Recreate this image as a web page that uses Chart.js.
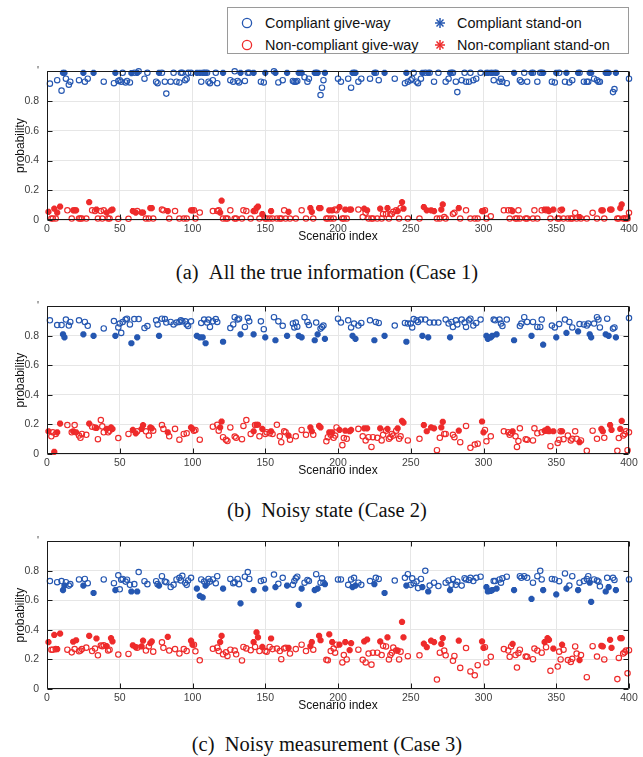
<!DOCTYPE html>
<html>
<head>
<meta charset="utf-8">
<title>Compliance probability per scenario</title>
<script src="https://cdn.jsdelivr.net/npm/chart.js@4.4.1/dist/chart.umd.min.js"></script>
<style>
  html, body { margin: 0; padding: 0; background: #fff; }
  body { width: 643px; height: 757px; position: relative; overflow: hidden; font-family: "Liberation Sans", Arial, sans-serif; }
  canvas { position: absolute; left: 0; }
  .legend { position: absolute; left: 227px; top: 7px; width: 400px; height: 45px; border: 1px solid #9a9a9a; background: #fff; }
  .item { position: absolute; font-size: 14.4px; color: #111; line-height: 16px; white-space: nowrap; }
  .item svg { position: absolute; top: 2px; }
  .caption { position: absolute; left: 0; width: 654px; text-align: center; line-height: 22px; font-family: "Liberation Serif", "Times New Roman", serif; font-size: 20.5px; color: #111; }
</style>
</head>
<body>
<div class="legend">
  <div class="item" style="left:37px;top:7px"><svg width="12" height="12" style="left:-24px"><circle cx="6" cy="6" r="4.6" fill="none" stroke="#2557b1" stroke-width="1.3"/></svg>Compliant give-way</div>
  <div class="item" style="left:229px;top:7px"><svg width="12" height="12" style="left:-23px"><g stroke="#2557b1" stroke-width="1.5"><line x1="1" y1="6" x2="11" y2="6"/><line x1="6" y1="1" x2="6" y2="11"/><line x1="2.5" y1="2.5" x2="9.5" y2="9.5"/><line x1="9.5" y1="2.5" x2="2.5" y2="9.5"/></g></svg>Compliant stand-on</div>
  <div class="item" style="left:37px;top:29px"><svg width="12" height="12" style="left:-24px"><circle cx="6" cy="6" r="4.6" fill="none" stroke="#ee2b2b" stroke-width="1.3"/></svg>Non-compliant give-way</div>
  <div class="item" style="left:229px;top:29px"><svg width="12" height="12" style="left:-23px"><g stroke="#ee2b2b" stroke-width="1.5"><line x1="1" y1="6" x2="11" y2="6"/><line x1="6" y1="1" x2="6" y2="11"/><line x1="2.5" y1="2.5" x2="9.5" y2="9.5"/><line x1="9.5" y1="2.5" x2="2.5" y2="9.5"/></g></svg>Non-compliant stand-on</div>
</div>

<canvas id="case1" width="643" height="189" style="top:57px"></canvas>
<div class="caption" style="top:261px">(a)&nbsp;&nbsp;All the true information (Case 1)</div>
<canvas id="case2" width="643" height="188" style="top:292px"></canvas>
<div class="caption" style="top:499px">(b)&nbsp;&nbsp;Noisy state (Case 2)</div>
<canvas id="case3" width="643" height="188" style="top:527px"></canvas>
<div class="caption" style="top:733px">(c)&nbsp;&nbsp;Noisy measurement (Case 3)</div>

<script>
const xTicks = [0, 50, 100, 150, 200, 250, 300, 350, 400];
const yTicks = [0, 0.2, 0.4, 0.6, 0.8, 1];

// scenario indices for each kind of vessel (same scenarios in all three cases)
const compGiveIdx = [
    2, 7, 10, 13, 15, 16, 22, 26, 28, 39,
    46, 49, 50, 51, 52, 54, 55, 57, 60, 63,
    67, 69, 75, 76, 79, 81, 82, 85, 87, 89,
    91, 92, 93, 95, 96, 97, 99, 106, 108, 110,
    111, 112, 114, 116, 117, 126, 128, 129, 131, 132,
    136, 138, 139, 147, 149, 156, 159, 162, 169, 170,
    171, 172, 177, 179, 180, 185, 188, 189, 190, 200,
    202, 207, 209, 211, 214, 216, 222, 226, 228, 239,
    246, 248, 250, 251, 252, 254, 255, 257, 260, 263,
    266, 269, 274, 276, 278, 279, 281, 282, 285, 287,
    288, 290, 291, 293, 295, 298, 307, 308, 311, 312,
    313, 316, 325, 326, 328, 330, 334, 337, 339, 340,
    347, 349, 352, 356, 359, 361, 366, 369, 371, 372,
    376, 378, 379, 380, 385, 389, 390, 400
];
const compStandIdx = [
    11, 12, 25, 32, 47, 58, 62, 77, 103, 105,
    107, 109, 121, 133, 142, 150, 157, 165, 173, 175,
    184, 186, 191, 210, 212, 225, 232, 247, 258, 262,
    277, 302, 303, 305, 306, 309, 321, 333, 341, 350,
    357, 365, 373, 374, 384, 386, 391
];
const nonGiveIdx = [
    3, 4, 6, 14, 17, 19, 22, 23, 24, 27,
    31, 33, 35, 37, 38, 39, 42, 43, 49, 56,
    62, 68, 70, 73, 79, 80, 84, 88, 91, 94,
    96, 101, 102, 105, 114, 117, 118, 121, 123, 124,
    126, 129, 130, 134, 135, 137, 140, 143, 146, 150,
    151, 153, 155, 158, 160, 161, 163, 164, 167, 171,
    175, 178, 183, 192, 193, 195, 197, 198, 199, 203,
    204, 206, 214, 217, 219, 221, 223, 224, 227, 230,
    231, 233, 235, 236, 237, 238, 240, 242, 243, 248,
    256, 268, 270, 273, 274, 279, 280, 284, 288, 291,
    294, 296, 301, 302, 305, 314, 317, 318, 319, 322,
    323, 324, 325, 329, 330, 334, 335, 337, 340, 343,
    346, 351, 352, 353, 355, 358, 360, 361, 363, 364,
    367, 371, 375, 378, 383, 392, 393, 396, 397, 398,
    399, 400
];
const nonStandIdx = [
    1, 5, 7, 9, 18, 20, 29, 34, 41, 44,
    45, 59, 61, 65, 66, 71, 72, 83, 99, 100,
    119, 120, 142, 144, 145, 148, 154, 166, 181, 182,
    187, 188, 194, 196, 201, 205, 208, 209, 218, 220,
    229, 234, 241, 244, 245, 259, 261, 264, 266, 271,
    272, 283, 299, 300, 320, 342, 344, 345, 348, 354,
    366, 381, 382, 387, 388, 394, 395
];

// Case 1: all the true information
const case1CompGive = [
    .917, .94, .87, .95, .91, .93, .94, .93, .95, .93,
    .92, .935, .94, .93, .99, .925, .935, .925, .99, 1.0,
    .95, .99, .93, .92, .99, .93, .85, .93, .99, .93,
    .925, .99, .99, .94, .95, .99, .99, .93, .99, .99,
    .93, .92, .94, .99, .92, .94, .93, 1.0, .935, .925,
    .935, .99, .99, .93, .925, 1.0, .925, .94, .935, .93,
    .93, .935, .96, .93, .95, .99, .84, .89, .94, .95,
    .93, .95, .89, .99, .93, .95, .95, .99, .94, .95,
    .92, .93, .94, .95, .99, .93, .92, .95, .99, .99,
    .93, .99, .93, .95, .99, .99, .93, .86, .94, .99,
    .93, .93, .99, .94, .95, .99, .94, .99, .93, .95,
    .93, .92, .94, .93, .99, .93, .99, .93, .99, .99,
    .93, .925, .99, .93, .925, .94, .99, .93, .93, .93,
    .95, .94, .93, .93, .99, .86, .88, .95
];
const case1CompStand = [
    .99, .99, .99, .99, .99, .988, .99, .99, .99, .99,
    .99, .99, .99, .99, .99, .99, .99, .99, .99, .99,
    .99, .99, .99, .99, .99, .99, .99, .99, .99, .99,
    .99, .99, .99, .99, .99, .99, .99, .99, .99, .99,
    .99, .99, .99, .99, .99, .99, .99
];
const case1NonGive = [
    .010, .010, .010, .065, .010, .065, .010, .010, .010, .010,
    .065, .060, .010, .060, .010, .065, .010, .010, .008, .008,
    .060, .010, .010, .010, .070, .065, .010, .060, .010, .010,
    .010, .065, .010, .050, .060, .060, .065, .010, .010, .010,
    .065, .010, .010, .010, .065, .060, .010, .060, .010, .010,
    .010, .010, .010, .010, .010, .010, .065, .010, .010, .010,
    .065, .010, .010, .010, .010, .010, .010, .070, .065, .010,
    .010, .010, .070, .020, .048, .010, .010, .010, .010, .010,
    .040, .040, .010, .040, .040, .055, .065, .010, .080, .010,
    .010, .010, .010, .020, .010, .040, .048, .010, .065, .010,
    .010, .010, .065, .010, .025, .065, .065, .010, .065, .010,
    .010, .065, .010, .010, .010, .010, .065, .010, .065, .065,
    .010, .010, .010, .065, .010, .010, .010, .010, .048, .010,
    .010, .010, .048, .010, .010, .010, .010, .010, .010, .010,
    .010, .048
];
const case1NonStand = [
    .055, .076, .050, .090, .065, .065, .120, .070, .050, .065,
    .070, .060, .050, .050, .050, .080, .080, .060, .065, .065,
    .050, .130, .060, .080, .090, .040, .060, .055, .080, .055,
    .080, .080, .065, .065, .087, .070, .070, .070, .076, .065,
    .076, .080, .060, .120, .076, .087, .065, .065, .060, .070,
    .105, .080, .060, .060, .060, .070, .070, .060, .070, .070,
    .020, .065, .065, .070, .070, .080, .105
];

// Case 2: noisy state
const case2CompGive = [
    .905, .873, .873, .91, .87, .894, .905, .894, .868, .85,
    .90, .857, .883, .82, .894, .91, .916, .877, .914, .914,
    .853, .866, .905, .877, .916, .914, .89, .894, .877, .89,
    .894, .905, .898, .898, .877, .866, .898, .887, .91, .89,
    .91, .86, .898, .914, .894, .853, .877, .926, .91, .916,
    .86, .922, .898, .898, .845, .926, .898, .868, .884, .857,
    .89, .862, .926, .894, .873, .89, .849, .86, .87, .916,
    .89, .905, .857, .883, .87, .887, .905, .894, .887, .87,
    .887, .883, .883, .857, .914, .905, .894, .91, .91, .89,
    .89, .89, .91, .883, .894, .86, .905, .877, .91, .89,
    .86, .905, .916, .87, .887, .91, .91, .905, .91, .883,
    .866, .91, .866, .883, .926, .894, .894, .86, .86, .91,
    .87, .857, .88, .91, .894, .857, .88, .877, .87, .883,
    .883, .926, .91, .857, .916, .849, .857, .92
];
const case2CompStand = [
    .81, .79, .81, .80, .80, .75, .79, .80, .80, .79,
    .79, .75, .76, .81, .81, .79, .77, .80, .80, .79,
    .77, .81, .78, .80, .78, .77, .80, .76, .80, .79,
    .79, .80, .78, .79, .80, .81, .77, .80, .74, .79,
    .82, .83, .81, .79, .81, .80, .79
];
const case2NonGive = [
    .120, .147, .136, .196, .147, .196, .125, .110, .136, .130,
    .185, .180, .100, .230, .187, .147, .147, .158, .108, .136,
    .154, .154, .125, .158, .196, .170, .120, .170, .097, .136,
    .140, .158, .163, .097, .185, .198, .158, .114, .097, .088,
    .180, .118, .110, .100, .190, .230, .136, .196, .120, .136,
    .147, .140, .136, .198, .120, .080, .154, .147, .097, .120,
    .163, .130, .130, .086, .114, .130, .110, .125, .180, .060,
    .108, .103, .170, .120, .092, .114, .048, .114, .110, .092,
    .130, .158, .103, .114, .136, .125, .158, .103, .120, .092,
    .103, .026, .110, .136, .136, .130, .114, .080, .190, .042,
    .064, .070, .163, .086, .120, .154, .147, .130, .140, .120,
    .048, .088, .174, .100, .097, .092, .174, .140, .147, .158,
    .053, .075, .097, .154, .100, .125, .092, .103, .154, .103,
    .092, .022, .158, .103, .110, .022, .108, .125, .136, .154,
    .026, .147
];
const case2NonStand = [
    .154, .015, .147, .206, .154, .147, .206, .176, .170, .180,
    .170, .163, .140, .170, .195, .180, .174, .147, .180, .170,
    .180, .220, .154, .198, .198, .170, .154, .125, .180, .154,
    .190, .180, .147, .147, .163, .158, .154, .163, .174, .174,
    .174, .170, .174, .224, .213, .196, .154, .180, .174, .180,
    .218, .158, .220, .147, .154, .158, .170, .154, .154, .154,
    .080, .170, .154, .196, .163, .170, .224
];

// Case 3: noisy measurement
const case3CompGive = [
    .731, .723, .731, .723, .70, .71, .742, .745, .716, .742,
    .716, .77, .675, .74, .745, .727, .74, .705, .71, .792,
    .73, .71, .73, .71, .764, .727, .723, .69, .705, .742,
    .753, .735, .766, .72, .705, .735, .753, .742, .727, .716,
    .745, .727, .742, .716, .764, .745, .716, .723, .745, .71,
    .76, .792, .745, .731, .738, .775, .712, .753, .705, .731,
    .749, .76, .72, .738, .731, .777, .72, .749, .72, .742,
    .742, .705, .742, .753, .72, .705, .731, .753, .745, .734,
    .753, .777, .705, .749, .716, .727, .683, .745, .80, .70,
    .72, .697, .72, .735, .705, .745, .705, .727, .70, .75,
    .742, .738, .753, .731, .753, .76, .731, .731, .742, .72,
    .749, .76, .764, .753, .764, .753, .72, .764, .80, .742,
    .745, .742, .73, .782, .70, .764, .72, .731, .745, .764,
    .742, .735, .727, .695, .753, .753, .738, .742
];
const case3CompStand = [
    .67, .70, .70, .65, .67, .66, .66, .70, .68, .63,
    .62, .70, .68, .58, .67, .68, .69, .70, .57, .68,
    .67, .68, .71, .69, .70, .71, .65, .70, .69, .66,
    .67, .69, .66, .665, .67, .68, .67, .61, .67, .64,
    .68, .67, .72, .59, .66, .69, .67
];
const case3NonGive = [
    .266, .266, .270, .266, .248, .270, .255, .260, .270, .280,
    .257, .274, .228, .294, .290, .296, .260, .266, .233, .237,
    .279, .260, .288, .253, .316, .279, .260, .270, .240, .270,
    .257, .300, .255, .194, .272, .280, .257, .235, .248, .224,
    .266, .260, .235, .193, .285, .275, .263, .285, .257, .257,
    .252, .285, .270, .274, .257, .202, .274, .279, .240, .270,
    .300, .257, .266, .198, .194, .257, .274, .246, .300, .180,
    .230, .200, .266, .198, .180, .240, .165, .246, .246, .230,
    .292, .288, .200, .230, .245, .280, .260, .200, .253, .222,
    .228, .064, .246, .260, .228, .191, .224, .143, .277, .119,
    .093, .161, .283, .180, .218, .270, .260, .218, .288, .230,
    .145, .244, .266, .220, .218, .202, .274, .260, .246, .283,
    .123, .152, .253, .200, .266, .196, .183, .204, .288, .240,
    .230, .080, .290, .220, .200, .067, .210, .240, .248, .260,
    .106, .263
];
const case3NonStand = [
    .318, .366, .270, .375, .320, .330, .360, .342, .290, .344,
    .322, .296, .283, .288, .327, .310, .322, .353, .327, .300,
    .318, .360, .318, .384, .350, .285, .342, .279, .290, .318,
    .360, .330, .370, .318, .300, .318, .263, .310, .322, .335,
    .322, .350, .260, .454, .350, .307, .283, .327, .318, .305,
    .344, .327, .322, .279, .305, .318, .344, .333, .274, .300,
    .196, .292, .288, .333, .279, .344, .344
];

const blue = "#2557b1";
const red = "#ee2b2b";
const font = "'Liberation Sans', Arial, sans-serif";

// box round the plot with inward tick marks on all four sides
const frame = {
    id: "frame",
    afterDraw(chart) {
        const { ctx, chartArea: a, scales: { x, y } } = chart;
        const L = Math.round(a.left) + 0.5, R = Math.round(a.right) - 0.5;
        const T = Math.round(a.top) + 0.5, B = Math.round(a.bottom) - 0.5;
        ctx.save();
        ctx.strokeStyle = "#1a1a1a";
        ctx.lineWidth = 1;
        ctx.beginPath();
        ctx.rect(L, T, R - L, B - T);
        xTicks.forEach((v) => {
            const px = Math.round(x.getPixelForValue(v)) + 0.5;
            ctx.moveTo(px, B); ctx.lineTo(px, B - 5);
            ctx.moveTo(px, T); ctx.lineTo(px, T + 5);
        });
        yTicks.forEach((v) => {
            const py = Math.round(y.getPixelForValue(v)) + 0.5;
            ctx.moveTo(L, py); ctx.lineTo(L + 5, py);
            ctx.moveTo(R, py); ctx.lineTo(R - 5, py);
        });
        ctx.stroke();
        ctx.restore();
    }
};

function points(idx, vals) {
    return idx.map((x, i) => ({ x, y: vals[i] }));
}

function circles(label, color, data) {
    return { label, data, pointStyle: "circle", pointRadius: 2.7, pointBorderWidth: 1.15,
        borderColor: color, backgroundColor: "rgba(255,255,255,0)", clip: false };
}

function stars(label, color, data) {
    return { label, data, pointStyle: "star", pointRadius: 3.1, pointBorderWidth: 2.3,
        borderColor: color, backgroundColor: color, clip: false };
}

function makePanel(id, compGive, compStand, nonGive, nonStand) {
    return new Chart(document.getElementById(id), {
        type: "scatter",
        data: {
            datasets: [
                circles("Compliant give-way", blue, points(compGiveIdx, compGive)),
                stars("Compliant stand-on", blue, points(compStandIdx, compStand)),
                circles("Non-compliant give-way", red, points(nonGiveIdx, nonGive)),
                stars("Non-compliant stand-on", red, points(nonStandIdx, nonStand))
            ]
        },
        options: {
            responsive: false,
            animation: false,
            devicePixelRatio: 1,
            layout: { padding: { top: 10, right: 14, bottom: 2, left: 0 } },
            plugins: { legend: { display: false }, tooltip: { enabled: false } },
            scales: {
                x: {
                    type: "linear", min: 0, max: 400,
                    afterBuildTicks: (s) => { s.ticks = xTicks.map((v) => ({ value: v })); },
                    afterFit: (s) => { s.height = 24; },
                    grid: { color: "#e6e6e6", drawTicks: false },
                    border: { display: false },
                    ticks: { padding: 3, color: "#404040", maxRotation: 0, autoSkip: false, font: { family: font, size: 10.5 } },
                    title: { display: true, text: "Scenario index", color: "#111", padding: 0, font: { family: font, size: 12 } }
                },
                y: {
                    type: "linear", min: 0, max: 1,
                    afterBuildTicks: (s) => { s.ticks = yTicks.map((v) => ({ value: v })); },
                    afterFit: (s) => { s.width = 47; },
                    grid: { color: "#e6e6e6", drawTicks: false },
                    border: { display: false },
                    ticks: {
                        padding: 8, color: "#404040", font: { family: font, size: 10.5 },
                        // the top label is cut off in the original figure, only a mark is left
                        callback: (v) => (v === 1 ? "'" : v === 0 ? "0" : v.toFixed(1))
                    },
                    title: { display: true, text: "probability", color: "#111", padding: { top: 13.5, bottom: 0 }, font: { family: font, size: 12 } }
                }
            }
        },
        plugins: [frame]
    });
}

makePanel("case1", case1CompGive, case1CompStand, case1NonGive, case1NonStand);
makePanel("case2", case2CompGive, case2CompStand, case2NonGive, case2NonStand);
makePanel("case3", case3CompGive, case3CompStand, case3NonGive, case3NonStand);
</script>
</body>
</html>
